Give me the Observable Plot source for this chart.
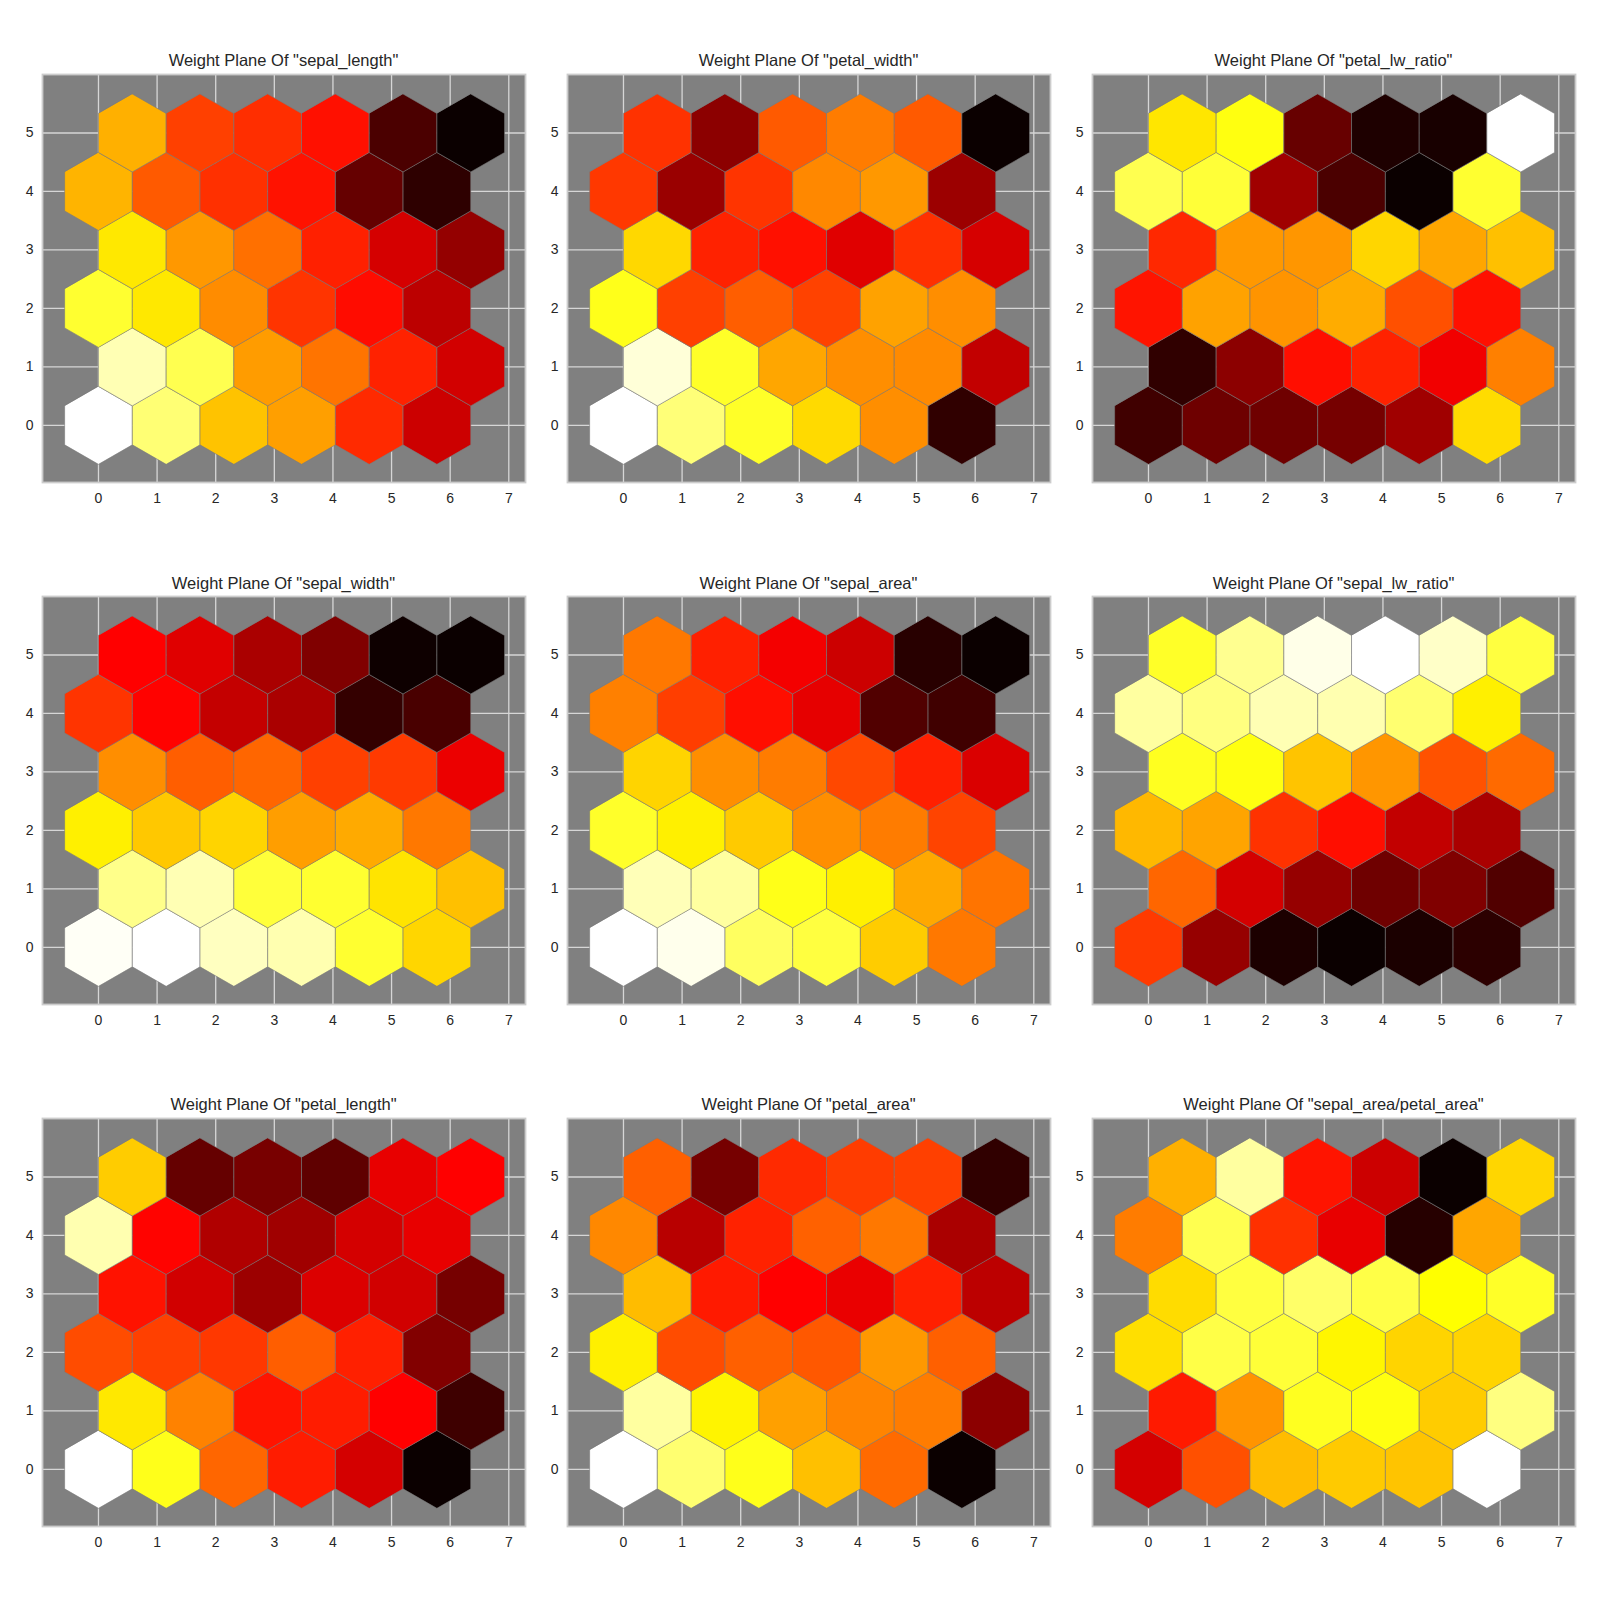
<!DOCTYPE html>
<html>
<head>
<meta charset="utf-8">
<script src="https://cdn.jsdelivr.net/npm/d3@7"></script>
<script src="https://cdn.jsdelivr.net/npm/@observablehq/plot@0.6"></script>
<style>
  html, body { margin: 0; padding: 0; background: #fff; }
  #root { position: relative; width: 1600px; height: 1600px; font-family: "Liberation Sans", Arial, sans-serif; }
  .title { position: absolute; text-align: center; font-size: 16.5px; color: #262626; line-height: 20px; height: 20px; white-space: nowrap; }
  .panel { position: absolute; }
</style>
</head>
<body>
<div id="root"></div>
<script>
// Feature names (panel titles), in reading order
const features = ["sepal_length", "petal_width", "petal_lw_ratio",
                  "sepal_width", "sepal_area", "sepal_lw_ratio",
                  "petal_length", "petal_area", "sepal_area/petal_area"];

// Weight planes: rows from y=0 (bottom) to y=5 (top), columns 0..5
const sepalLength = [
  [1.0, 0.862, 0.656, 0.603, 0.428, 0.289],
  [0.925, 0.826, 0.598, 0.538, 0.416, 0.297],
  [0.794, 0.712, 0.574, 0.443, 0.383, 0.265],
  [0.712, 0.592, 0.532, 0.413, 0.302, 0.205],
  [0.634, 0.50, 0.437, 0.392, 0.134, 0.053],
  [0.628, 0.461, 0.434, 0.389, 0.095, 0.0]
];
const petalWidth = [
  [1.0, 0.866, 0.786, 0.691, 0.577, 0.056],
  [0.961, 0.786, 0.613, 0.577, 0.571, 0.274],
  [0.772, 0.461, 0.506, 0.464, 0.607, 0.577],
  [0.688, 0.416, 0.389, 0.318, 0.437, 0.304],
  [0.449, 0.214, 0.443, 0.568, 0.592, 0.217],
  [0.44, 0.193, 0.50, 0.55, 0.50, 0.0]
];
const petalLwRatio = [
  [0.08, 0.148, 0.15, 0.16, 0.223, 0.694],
  [0.056, 0.193, 0.386, 0.416, 0.346, 0.556],
  [0.395, 0.607, 0.586, 0.622, 0.485, 0.389],
  [0.425, 0.592, 0.589, 0.685, 0.613, 0.652],
  [0.826, 0.802, 0.223, 0.095, 0.0, 0.794],
  [0.709, 0.762, 0.137, 0.029, 0.02, 1.0]
];
const sepalWidth = [
  [0.991, 1.0, 0.937, 0.921, 0.794, 0.685],
  [0.883, 0.925, 0.804, 0.794, 0.706, 0.652],
  [0.724, 0.664, 0.682, 0.601, 0.619, 0.544],
  [0.577, 0.506, 0.517, 0.461, 0.452, 0.337],
  [0.443, 0.368, 0.277, 0.238, 0.062, 0.092],
  [0.365, 0.318, 0.238, 0.175, 0.005, 0.0]
];
const sepalArea = [
  [1.0, 0.981, 0.842, 0.81, 0.67, 0.544],
  [0.929, 0.905, 0.770, 0.724, 0.616, 0.538],
  [0.788, 0.724, 0.667, 0.577, 0.55, 0.467],
  [0.682, 0.577, 0.55, 0.473, 0.413, 0.31],
  [0.556, 0.458, 0.386, 0.328, 0.104, 0.08],
  [0.544, 0.413, 0.349, 0.289, 0.044, 0.0]
];
const sepalLwRatio = [
  [0.452, 0.208, 0.026, 0.0, 0.024, 0.05],
  [0.517, 0.3, 0.208, 0.15, 0.175, 0.104],
  [0.64, 0.61, 0.44, 0.386, 0.274, 0.238],
  [0.778, 0.762, 0.658, 0.589, 0.488, 0.523],
  [0.905, 0.873, 0.925, 0.921, 0.858, 0.724],
  [0.786, 0.889, 0.977, 1.0, 0.945, 0.81]
];
const petalLength = [
  [1.0, 0.772, 0.517, 0.407, 0.3, 0.0],
  [0.712, 0.559, 0.395, 0.407, 0.365, 0.077],
  [0.479, 0.461, 0.449, 0.506, 0.413, 0.178],
  [0.392, 0.296, 0.217, 0.313, 0.296, 0.16],
  [0.921, 0.37, 0.247, 0.223, 0.3, 0.331],
  [0.67, 0.134, 0.163, 0.125, 0.331, 0.365]
];
const petalArea = [
  [1.0, 0.858, 0.772, 0.652, 0.523, 0.0],
  [0.905, 0.73, 0.604, 0.562, 0.55, 0.193],
  [0.724, 0.479, 0.508, 0.496, 0.592, 0.508],
  [0.646, 0.404, 0.365, 0.334, 0.413, 0.265],
  [0.568, 0.259, 0.416, 0.51, 0.544, 0.238],
  [0.508, 0.16, 0.428, 0.455, 0.461, 0.056]
];
const areaRatio = [
  [0.3, 0.485, 0.646, 0.667, 0.658, 1.0],
  [0.404, 0.586, 0.778, 0.762, 0.67, 0.873],
  [0.698, 0.817, 0.802, 0.733, 0.682, 0.682],
  [0.694, 0.81, 0.85, 0.817, 0.746, 0.786],
  [0.55, 0.826, 0.437, 0.331, 0.041, 0.613],
  [0.628, 0.905, 0.395, 0.289, 0.0, 0.685]
];

const planes = [sepalLength, petalWidth, petalLwRatio,
                sepalWidth, sepalArea, sepalLwRatio,
                petalLength, petalArea, areaRatio];

// Tick labels
const xTicks = [0, 1, 2, 3, 4, 5, 6, 7];
const yTicks = [0, 1, 2, 3, 4, 5];

// Matplotlib "hot" colormap stops
const hotStops = [0, 0.365, 0.746, 1];
const hotColors = ["#0b0000", "#ff0000", "#ffff00", "#ffffff"];

// ---- layout (pixels) ----
const colLefts = [42, 567, 1092];
const rowTops = [73.5, 596, 1117.5];
const W = 483, H = 408;
const mL = 42, mR = 8, mT = 2, mB = 30;
const xDomain = [-0.955, 7.285];
const yDomain = [-0.977, 6.0];
const tickFont = 14;

// Build hexagon polygons (pointy-top, offset rows) in data space
const SQ3 = Math.sqrt(3);
function hexVertices(grid) {
  const R = 2 / 3, A = R * SQ3 / 2;
  const offs = [[0, R], [A, R / 2], [A, -R / 2], [0, -R], [-A, -R / 2], [-A, R / 2]];
  const verts = [];
  grid.forEach((row, r) => row.forEach((v, c) => {
    const cx = (c + (r % 2) * 0.5) * 2 / SQ3, cy = r;
    offs.forEach(([dx, dy]) => verts.push({id: r * row.length + c, x: cx + dx, y: cy + dy, v}));
  }));
  return verts;
}

const root = document.getElementById("root");
planes.forEach((grid, i) => {
  const left = colLefts[i % 3], top = rowTops[Math.floor(i / 3)];
  const chart = Plot.plot({
    width: mL + W + mR,
    height: mT + H + mB,
    marginLeft: mL, marginRight: mR, marginTop: mT, marginBottom: mB,
    x: {domain: xDomain},
    y: {domain: yDomain},
    color: {type: "linear", domain: hotStops, range: hotColors, clamp: true},
    style: {fontFamily: "'Liberation Sans', Arial, sans-serif", color: "#262626", background: "transparent", overflow: "visible"},
    marks: [
      Plot.frame({fill: "#808080", stroke: "none"}),
      Plot.ruleX(xTicks, {stroke: "#d6d6d6", strokeWidth: 1.3}),
      Plot.ruleY(yTicks, {stroke: "#d6d6d6", strokeWidth: 1.3}),
      Plot.line(hexVertices(grid), {x: "x", y: "y", z: "id", fill: "v", stroke: "#7a7a7a", strokeWidth: 0.6, curve: "linear-closed"}),
      Plot.frame({stroke: "#cccccc", strokeWidth: 1.8, fill: "none"}),
      Plot.axisX(xTicks, {tickSize: 0, tickPadding: 11, tickFormat: "d", label: null, fontSize: tickFont, fill: "#262626"}),
      Plot.axisY(yTicks, {tickSize: 0, tickPadding: 9, tickFormat: "d", label: null, fontSize: tickFont, fill: "#262626"})
    ]
  });
  const wrap = document.createElement("div");
  wrap.className = "panel";
  wrap.style.left = (left - mL) + "px";
  wrap.style.top = (top - mT) + "px";
  wrap.appendChild(chart);
  root.appendChild(wrap);

  const t = document.createElement("div");
  t.className = "title";
  t.style.left = left + "px";
  t.style.width = W + "px";
  t.style.top = (top - 23.5) + "px";
  t.textContent = `Weight Plane Of "${features[i]}"`;
  root.appendChild(t);
});
</script>
</body>
</html>
